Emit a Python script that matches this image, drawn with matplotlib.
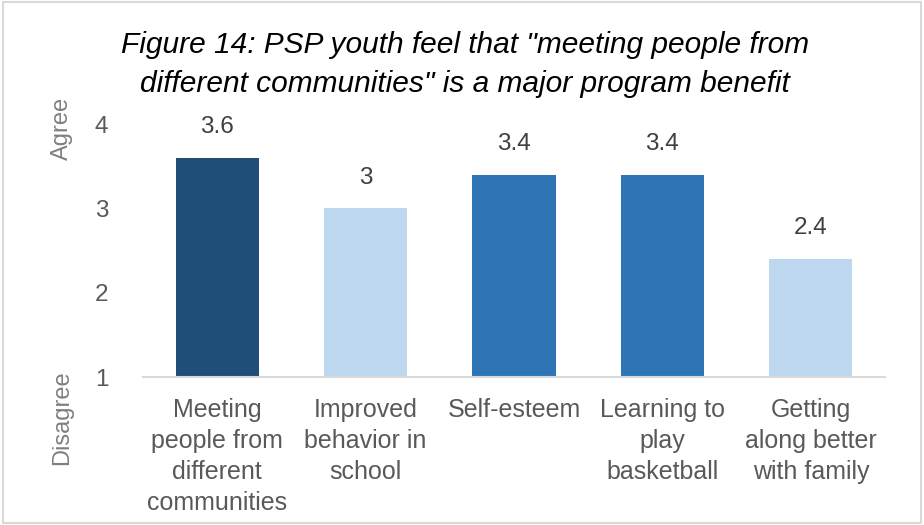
import matplotlib.pyplot as plt
from matplotlib.patches import Rectangle

# Survey categories and mean agreement scores (1 = Disagree, 4 = Agree).
categories = ["Meeting\npeople from\ndifferent\ncommunities",
              "Improved\nbehavior in\nschool",
              "Self-esteem",
              "Learning to\nplay\nbasketball",
              "Getting\nalong better\nwith family"]
scores = [3.6, 3.0, 3.4, 3.4, 2.4]
score_labels = ["3.6", "3", "3.4", "3.4", "2.4"]
bar_colors = ["#1F4E79", "#BDD7EE", "#2E75B6", "#2E75B6", "#BDD7EE"]
y_ticks = [1, 2, 3, 4]

title = 'Figure 14: PSP youth feel that "meeting people from\ndifferent communities" is a major program benefit'

plt.rcParams['font.family'] = ['Liberation Sans', 'DejaVu Sans']

fig = plt.figure(figsize=(9.24, 5.25), dpi=100)
ax = fig.add_axes([143 / 924, 1 - 377 / 525, 742 / 924, 253 / 525])

# Bars start from the bottom of the scale.
base = y_ticks[0]
x = range(len(categories))
ax.bar(x, [s - base for s in scores], bottom=base, width=0.56, color=bar_colors)

for xi, s, lab in zip(x, scores, score_labels):
    ax.annotate(lab, (xi, s), xytext=(0, 22), textcoords='offset points',
                ha='center', va='center', fontsize=17.5, color='#404040')

ax.set_xlim(-0.5, len(categories) - 0.5)
ax.set_ylim(y_ticks[0], y_ticks[-1])
ax.set_yticks(y_ticks)
ax.set_yticklabels([str(t) for t in y_ticks], fontsize=17.5, color='#595959')
ax.set_xticks(list(x))
ax.set_xticklabels(categories, fontsize=18, color='#595959', linespacing=1.38, va='top')
ax.tick_params(axis='both', length=0)
ax.tick_params(axis='y', pad=25)
ax.tick_params(axis='x', pad=15)

for side in ['top', 'right', 'left']:
    ax.spines[side].set_visible(False)
ax.spines['bottom'].set_color('#D9D9D9')
ax.spines['bottom'].set_linewidth(1.5)

# Scale end labels.
fig.text(62 / 924, 1 - 128 / 525, "Agree", rotation=90, ha='center', va='center',
         fontsize=17, color='#7F7F7F')
fig.text(62 / 924, 1 - 418 / 525, "Disagree", rotation=90, ha='center', va='center',
         fontsize=17, color='#7F7F7F')

fig.text(0.503, 1 - 64 / 525, title, ha='center', va='center', fontsize=21.5,
         style='italic', color='black', linespacing=1.5)

# Light frame around the chart area.
fig.patches.append(Rectangle((0.003, 0.003), 0.994, 0.994, transform=fig.transFigure,
                             fill=False, edgecolor='#D9D9D9', linewidth=1.5))

fig.savefig('out.png', dpi=100)
